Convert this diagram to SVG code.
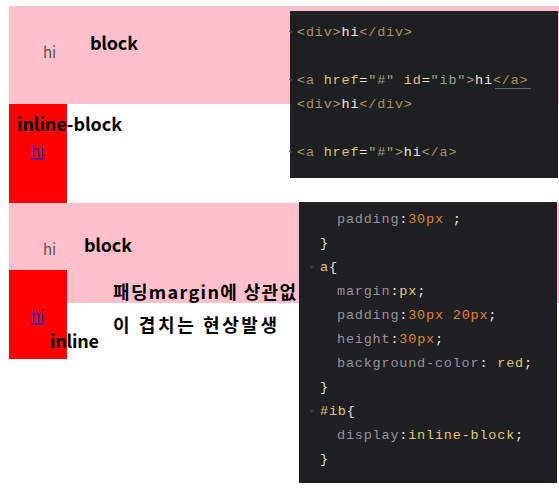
<svg xmlns="http://www.w3.org/2000/svg" width="559" height="489" viewBox="0 0 559 489">
<style>
.lbl{font-family:"Noto Sans CJK KR","Noto Sans",sans-serif;font-weight:bold;font-size:18px;fill:#000}
.hi{font-family:"Noto Sans CJK KR","Noto Sans",sans-serif;font-size:15px;fill:#555}
.lnk{font-family:"Noto Sans CJK KR","Noto Sans",sans-serif;font-size:15px;fill:#2b1fd6;text-decoration:underline}
.code{font-family:"Liberation Mono","DejaVu Sans Mono",monospace;font-size:13.5px;letter-spacing:0.8px;fill:#dcdcdc}
.tag{fill:#a8925e}.att{fill:#e2c27a}.str{fill:#94a886}.w{fill:#e6e6e6}
.prop{fill:#9c8fa0}.num{fill:#e0862e}.val{fill:#e6c76f}
.fold{fill:#3d3f44}
</style>
<rect width="559" height="489" fill="#fff"/>
<g id="page1">
<rect x="9" y="6" width="550" height="98" fill="#ffc0cb"/>
<rect x="9" y="104" width="58" height="99" fill="#ff0000"/>
<rect x="9" y="203" width="550" height="100" fill="#ffc0cb"/>
<rect x="9" y="270" width="58" height="89" fill="#ff0000"/>
</g>
<g id="texts1">
<text class="hi" x="43" y="58">hi</text>
<text class="lbl" x="90" y="50" textLength="48" lengthAdjust="spacing">block</text>
<text class="lbl" x="17" y="131" textLength="105" lengthAdjust="spacing">inline-block</text>
<text class="lnk" x="31" y="157">hi</text>
</g>
<g id="texts2">
<text class="hi" x="43" y="255">hi</text>
<text class="lbl" x="84" y="252" textLength="48" lengthAdjust="spacing">block</text>
<text class="lbl" x="113" y="299" textLength="183" lengthAdjust="spacing">패딩margin에 상관없</text>
<text class="lbl" x="113" y="332" textLength="164" lengthAdjust="spacing">이 겹치는 현상발생</text>
<text class="lnk" x="31" y="322">hi</text>
<text class="lbl" x="50" y="348" textLength="49" lengthAdjust="spacing">inline</text>
</g>
<g id="code1">
<rect x="290" y="11" width="268" height="167" fill="#1e1f22"/>
<line x1="290" y1="14.5" x2="558" y2="14.5" stroke="#2b2d31" stroke-width="1"/>
<path class="fold" d="M289,31 l4,0 l-2,3 z M289,79 l4,0 l-2,3 z M289,151 l4,0 l-2,3 z"/>
<text class="code" x="297" y="36"><tspan class="tag">&lt;div&gt;</tspan><tspan class="w">hi</tspan><tspan class="tag">&lt;/div&gt;</tspan></text>
<text class="code" x="297" y="84"><tspan class="tag">&lt;a </tspan><tspan class="att">href</tspan><tspan class="w">=</tspan><tspan class="str">"#"</tspan><tspan class="w"> </tspan><tspan class="att">id</tspan><tspan class="w">=</tspan><tspan class="str">"ib"</tspan><tspan class="tag">&gt;</tspan><tspan class="w">hi</tspan><tspan class="tag">&lt;/a&gt;</tspan></text>
<line x1="495" y1="88.5" x2="531" y2="88.5" stroke="#6a6a6a" stroke-width="1"/>
<text class="code" x="297" y="108"><tspan class="tag">&lt;div&gt;</tspan><tspan class="w">hi</tspan><tspan class="tag">&lt;/div&gt;</tspan></text>
<text class="code" x="297" y="156"><tspan class="tag">&lt;a </tspan><tspan class="att">href</tspan><tspan class="w">=</tspan><tspan class="str">"#"</tspan><tspan class="tag">&gt;</tspan><tspan class="w">hi</tspan><tspan class="tag">&lt;/a&gt;</tspan></text>
</g>
<g id="code2">
<rect x="299" y="202" width="258" height="281" fill="#1e1f22"/>
<path class="fold" d="M309,266 l5,0 l-2.5,3 z M309,410 l5,0 l-2.5,3 z"/>
<text class="code" x="337" y="223"><tspan class="prop">padding</tspan><tspan class="w">:</tspan><tspan class="num">30px</tspan><tspan class="w"> ;</tspan></text>
<text class="code" x="320" y="247">}</text>
<text class="code" x="320" y="271"><tspan class="val">a</tspan><tspan class="w">{</tspan></text>
<text class="code" x="337" y="295"><tspan class="prop">margin</tspan><tspan class="w">:</tspan><tspan class="val">px</tspan><tspan class="w">;</tspan></text>
<text class="code" x="337" y="319"><tspan class="prop">padding</tspan><tspan class="w">:</tspan><tspan class="num">30px 20px</tspan><tspan class="w">;</tspan></text>
<text class="code" x="337" y="343"><tspan class="prop">height</tspan><tspan class="w">:</tspan><tspan class="num">30px</tspan><tspan class="w">;</tspan></text>
<text class="code" x="337" y="367"><tspan class="prop">background-color</tspan><tspan class="w">: </tspan><tspan class="val">red</tspan><tspan class="w">;</tspan></text>
<text class="code" x="320" y="391">}</text>
<text class="code" x="320" y="415"><tspan class="val">#ib</tspan><tspan class="w">{</tspan></text>
<text class="code" x="337" y="439"><tspan class="prop">display</tspan><tspan class="w">:</tspan><tspan class="val">inline-block</tspan><tspan class="w">;</tspan></text>
<text class="code" x="320" y="463">}</text>
</g>
</svg>
